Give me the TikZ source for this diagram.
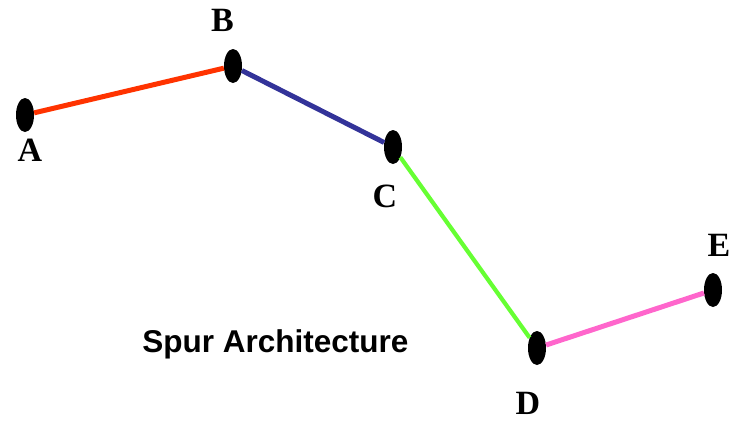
\documentclass[tikz,border=0pt]{standalone}
\usepackage{fontspec}
\setmainfont{Liberation Serif}
\newfontfamily\capfont{Liberation Sans}
\usetikzlibrary{shapes.geometric}
\definecolor{segred}{HTML}{FF3300}
\definecolor{segblue}{HTML}{333399}
\definecolor{seggreen}{HTML}{66FF33}
\definecolor{segpink}{HTML}{FF66CC}
\begin{document}
\begin{tikzpicture}[x=1pt,y=-1pt,
  stop/.style={ellipse,fill=black,inner sep=0pt,minimum width=18pt,minimum height=34pt},
  stoplabel/.style={font=\fontsize{34}{34}\selectfont\bfseries,inner sep=0pt},
  seg/.style={line width=5pt}]
\useasboundingbox (0,0) rectangle (737,421);
% stops
\node[stop] (A) at (25,115) {};
\node[stop] (B) at (233,66) {};
\node[stop] (C) at (393,147) {};
\node[stop] (D) at (537,348) {};
\node[stop] (E) at (713,290) {};
% stop names
\node[stoplabel] (lA) at (30,150) {A};
\node[stoplabel] (lB) at (222.5,20.5) {B};
\node[stoplabel] (lC) at (385,196) {C};
\node[stoplabel] (lD) at (528,403) {D};
\node[stoplabel] (lE) at (719,245) {E};
% segments
\draw[seg,segred] (A) -- (B);
\draw[seg,segblue] (B) -- (C);
\draw[seg,seggreen,line width=4.2pt] (C) -- (D);
\draw[seg,segpink] (D) -- (E);
\node[anchor=base,inner sep=0pt,font=\capfont\fontsize{31.5}{31.5}\selectfont\bfseries] (title) at (275.5,352) {Spur Architecture};
\end{tikzpicture}
\end{document}
